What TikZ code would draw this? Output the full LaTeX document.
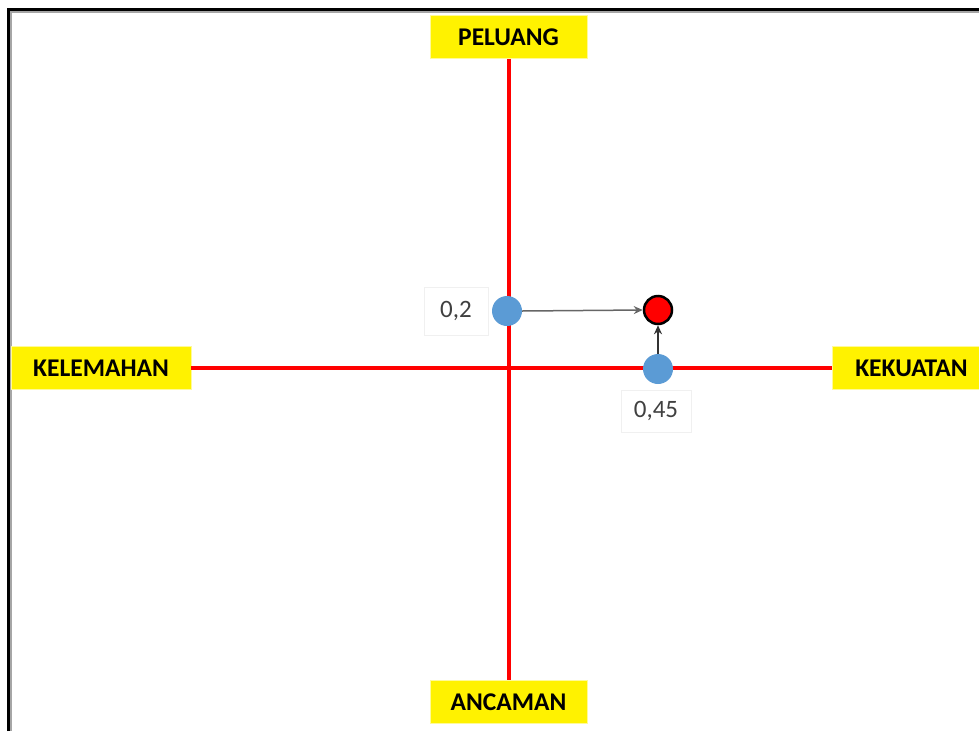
\documentclass[tikz,border=0pt]{standalone}
\usepackage{fontspec}
\setmainfont{Carlito}
\usetikzlibrary{arrows.meta}
\definecolor{dotblue}{RGB}{91,155,213}
\definecolor{labgray}{RGB}{64,64,64}
\tikzset{
  axis/.style={draw=red, line width=4pt},
  tag/.style={fill=yellow, draw=yellow!40, line width=0.8pt, font=\bfseries\fontsize{25.5}{27}\selectfont, text=black, inner sep=0pt, minimum height=43pt},
  dot/.style={circle, fill=dotblue, minimum size=30pt, inner sep=0pt},
  target/.style={circle, fill=red, draw=black, line width=2.5pt, minimum size=28pt, inner sep=0pt},
  val/.style={draw=black!6, line width=0.8pt, fill=white, font=\fontsize{25}{27}\selectfont, text=labgray, inner sep=0pt},
  link/.style={draw=black!60, line width=1.5pt, -{Stealth[length=9pt,width=8pt,open]}},
}
\begin{document}
\begin{tikzpicture}[x=1pt,y=-1pt]
\useasboundingbox (0,0) rectangle (979,731);
\fill[white] (0,0) rectangle (979,731);
% frame
\draw[black!35, line width=2pt] (11,731) -- (11,12) -- (979,12);
\draw[black, line width=3pt] (8,731) -- (8,9) -- (979,9);
% tags
\node[tag, minimum width=157pt] (pel) at (508.5,37) {PELUANG};
\node[tag, minimum width=157pt] (anc) at (508.5,702) {ANCAMAN};
\node[tag, minimum width=180pt] (kel) at (101,368) {KELEMAHAN};
\node[tag, minimum width=150pt, anchor=west] (kek) at (832,368) {\hspace*{6pt}KEKUATAN\hspace*{-2pt}};
% axes
\draw[axis] (pel.south) -- (anc.north);
\draw[axis] (kel.east) -- (kek.west);
% points
\node[dot] (p1) at (507,311) {};
\node[dot] (p2) at (658,369) {};
\node[target] (goal) at (658,310) {};
\node[val, minimum width=64pt, minimum height=48pt] (l1) at (456,311) {0,2};
\node[val, minimum width=70pt, minimum height=42pt] (l2) at (656,411) {0,45};
\draw[link] (p1.east) -- (goal.west);
\draw[link, draw=black!80] (p2.north) -- (goal.south);
\end{tikzpicture}
\end{document}
